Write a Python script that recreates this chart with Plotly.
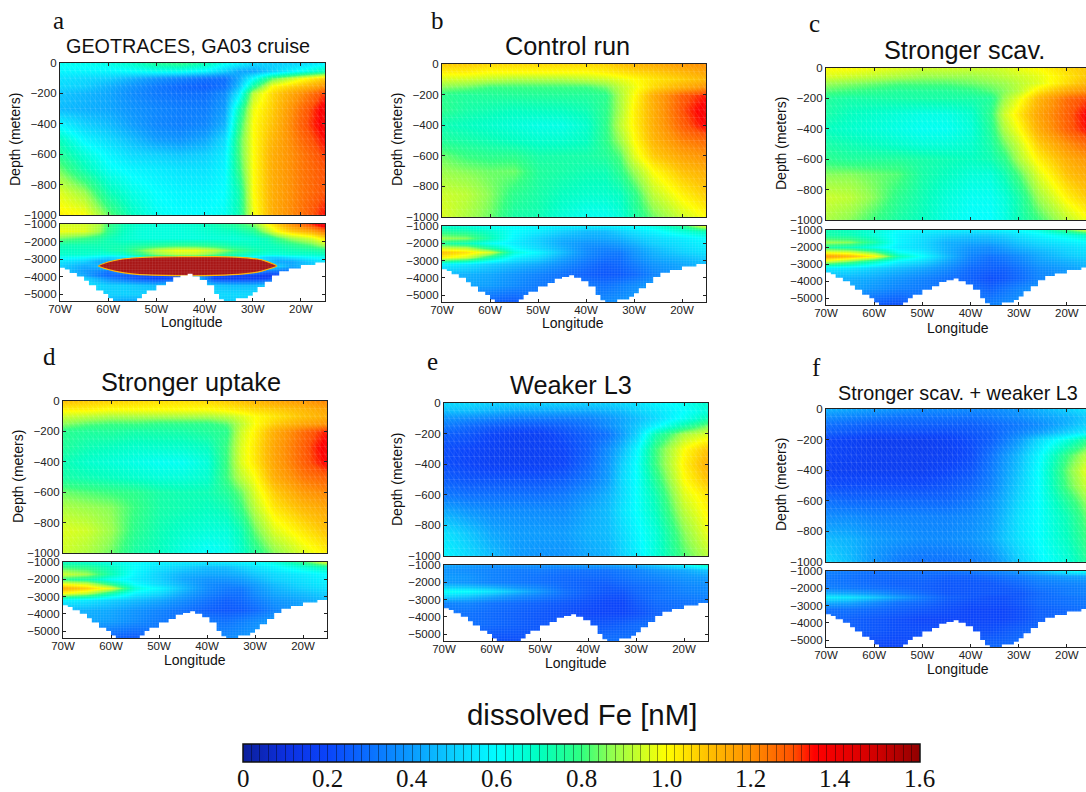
import plotly.graph_objects as go
import numpy as np

W, H = 1086, 792
SANS = "Liberation Sans"
SERIF = "Liberation Serif"

lons = [-70, -65, -60, -55, -50, -45, -40, -36, -33, -30, -26, -20, -15]
upper_depths = [0, -50, -100, -150, -200, -300, -400, -500, -600, -700, -850, -1000]
lower_depths = [-1000, -1300, -1700, -2000, -2300, -2500, -2800, -3200, -3800, -4400, -5400]

a_upper = [
    [.62, .62, .64, .68, .76, .78, .72, .62, .58, .52, .50, .52, .58],
    [.58, .58, .58, .60, .62, .62, .58, .50, .42, .42, .50, .62, .72],
    [.54, .52, .50, .44, .38, .34, .30, .30, .42, .60, .82, .98, 1.08],
    [.52, .50, .44, .38, .32, .28, .26, .30, .46, .75, 1.0, 1.1, 1.2],
    [.48, .45, .42, .36, .32, .30, .30, .36, .55, .92, 1.06, 1.2, 1.32],
    [.46, .44, .42, .38, .35, .33, .33, .40, .70, .98, 1.08, 1.26, 1.38],
    [.58, .50, .46, .40, .35, .33, .35, .44, .76, 1.0, 1.1, 1.28, 1.38],
    [.70, .58, .52, .46, .40, .38, .42, .52, .80, 1.0, 1.12, 1.26, 1.35],
    [.76, .66, .58, .52, .50, .48, .50, .56, .80, 1.0, 1.14, 1.24, 1.32],
    [.84, .72, .62, .58, .56, .54, .54, .58, .78, 1.0, 1.14, 1.24, 1.3],
    [.96, .88, .72, .64, .60, .58, .58, .60, .72, 1.0, 1.14, 1.24, 1.3],
    [1.02, 1.0, .84, .70, .62, .60, .60, .62, .72, .98, 1.14, 1.25, 1.35],
]
a_lons = [-70, -65, -62, -60, -57, -54, -50, -46, -42, -38, -34, -30, -27, -25, -22, -18, -15]
a_depths = [-1000, -1400, -1800, -2200, -2500, -2700, -2900, -3100, -3400, -3700, -3900, -4100, -4500, -5000, -5400]
a_lower = [
    [.95, .95, .90, .80, .72, .68, .66, .66, .68, .72, .76, .85, 1.0, 1.08, 1.2, 1.32, 1.42],
    [.98, .96, .88, .78, .70, .66, .65, .65, .66, .68, .70, .76, .90, 1.0, 1.08, 1.15, 1.25],
    [.85, .80, .76, .72, .68, .66, .65, .65, .65, .66, .66, .68, .72, .80, .88, .95, 1.05],
    [.72, .72, .72, .72, .72, .74, .76, .78, .78, .76, .72, .70, .70, .72, .76, .82, .90],
    [.70, .70, .70, .72, .74, .82, .92, .98, .98, .92, .82, .74, .70, .70, .72, .74, .76],
    [.68, .68, .66, .66, .68, .76, .86, .92, .92, .84, .74, .68, .66, .66, .68, .68, .70],
    [.62, .60, .56, .52, .55, .60, .70, .70, .70, .70, .65, .58, .50, .50, .55, .60, .62],
    [.55, .50, .42, .42, .50, .70, .70, .70, .70, .70, .70, .60, .50, .42, .42, .50, .55],
    [.50, .42, .45, .60, .70, .70, .70, .70, .70, .70, .70, .70, .60, .50, .42, .48, .52],
    [.50, .40, .35, .30, .40, .50, .50, .50, .50, .50, .50, .40, .30, .30, .30, .40, .50],
    [.50, .42, .32, .28, .26, .24, .22, .22, .40, .22, .20, .18, .16, .20, .30, .40, .50],
    [.55, .50, .42, .36, .30, .24, .20, .22, .50, .20, .18, .18, .20, .30, .40, .50, .50],
    [.55, .55, .52, .50, .50, .48, .46, .50, .50, .48, .46, .46, .48, .50, .50, .50, .50],
    [.52, .52, .50, .50, .50, .50, .50, .50, .50, .52, .52, .52, .52, .50, .50, .50, .50],
    [.48, .48, .48, .45, .42, .42, .45, .50, .50, .50, .50, .50, .50, .50, .50, .50, .50],
]
lens_lon = [-62, -60, -57, -54, -50, -45, -40, -35, -32, -29, -27, -25, -27, -29, -33, -40, -46, -54, -57, -60, -62]
lens_depth = [-3400, -3170, -3000, -2930, -2880, -2870, -2860, -2880, -2920, -3000, -3150, -3400, -3600, -3750,
              -3880, -3950, -3950, -3880, -3780, -3600, -3400]

b_upper = [
    [1.08, 1.08, 1.06, 1.06, 1.06, 1.06, 1.06, 1.07, 1.1, 1.12, 1.14, 1.18, 1.2],
    [1.02, 1.02, 1.0, 1.0, 1.0, 1.0, 1.0, 1.02, 1.04, 1.06, 1.08, 1.12, 1.16],
    [.95, .94, .92, .90, .90, .90, .92, .94, .97, 1.0, 1.04, 1.08, 1.12],
    [.86, .84, .80, .80, .80, .80, .80, .84, .92, .98, 1.06, 1.14, 1.2],
    [.78, .76, .76, .76, .76, .76, .76, .78, .90, 1.0, 1.14, 1.28, 1.34],
    [.78, .74, .72, .70, .70, .70, .72, .78, .90, 1.02, 1.14, 1.3, 1.38],
    [.72, .70, .68, .66, .64, .64, .68, .78, .92, 1.02, 1.14, 1.28, 1.36],
    [.76, .74, .72, .70, .68, .68, .70, .78, .88, 1.0, 1.12, 1.22, 1.26],
    [.84, .80, .78, .78, .74, .74, .74, .76, .82, .96, 1.08, 1.16, 1.2],
    [.88, .86, .84, .84, .76, .74, .72, .72, .78, .88, 1.0, 1.1, 1.14],
    [.94, .92, .86, .78, .74, .70, .68, .68, .70, .78, .92, 1.02, 1.08],
    [.96, .90, .84, .74, .72, .66, .62, .62, .66, .74, .84, .94, 1.0],
]
b_lower = [
    [.68, .66, .62, .60, .58, .56, .56, .56, .58, .60, .64, .76, .96],
    [.76, .74, .68, .60, .56, .50, .46, .46, .50, .54, .58, .66, .72],
    [.88, .86, .72, .58, .50, .44, .42, .42, .44, .48, .52, .56, .60],
    [.76, .72, .62, .56, .50, .42, .38, .38, .40, .44, .50, .54, .58],
    [.94, .92, .76, .60, .52, .44, .36, .34, .36, .40, .46, .52, .56],
    [1.1, 1.05, .95, .66, .58, .46, .36, .32, .32, .38, .44, .50, .54],
    [1.02, .95, .75, .58, .52, .42, .34, .30, .30, .36, .42, .46, .50],
    [.58, .55, .50, .46, .42, .36, .30, .26, .28, .32, .38, .42, .46],
    [.45, .44, .42, .38, .34, .30, .26, .24, .25, .28, .34, .40, .44],
    [.42, .42, .40, .36, .32, .30, .32, .30, .33, .36, .40, .42, .44],
    [.30, .28, .26, .24, .30, .32, .34, .36, .38, .40, .42, .44, .44],
]

c_upper = [
    [1.0, 1.0, .98, .96, .94, .94, .94, .94, .95, .98, 1.0, 1.06, 1.1],
    [.96, .94, .92, .90, .88, .88, .88, .90, .92, .94, .97, 1.04, 1.1],
    [.88, .86, .84, .82, .82, .82, .84, .86, .88, .92, .96, 1.06, 1.14],
    [.82, .80, .78, .76, .76, .76, .78, .82, .86, .92, 1.04, 1.16, 1.22],
    [.76, .74, .74, .74, .74, .74, .74, .76, .88, .98, 1.12, 1.26, 1.32],
    [.74, .70, .68, .66, .64, .64, .68, .78, .94, 1.04, 1.16, 1.28, 1.38],
    [.70, .68, .66, .64, .62, .62, .66, .76, .90, 1.0, 1.14, 1.28, 1.36],
    [.74, .72, .70, .68, .66, .66, .68, .74, .84, .94, 1.08, 1.2, 1.28],
    [.78, .76, .76, .76, .74, .72, .70, .72, .78, .90, 1.02, 1.14, 1.2],
    [.86, .86, .84, .82, .74, .70, .66, .66, .72, .82, .96, 1.1, 1.16],
    [.94, .92, .86, .78, .72, .66, .62, .62, .66, .74, .88, 1.02, 1.1],
    [.90, .86, .80, .74, .70, .64, .60, .60, .64, .72, .80, .92, 1.0],
]
c_lower = [
    [.72, .70, .66, .60, .58, .56, .56, .56, .58, .60, .64, .80, .96],
    [.74, .72, .66, .58, .54, .50, .48, .48, .50, .54, .58, .64, .70],
    [.88, .86, .74, .58, .52, .44, .42, .42, .44, .48, .52, .56, .60],
    [.76, .72, .64, .56, .52, .44, .38, .36, .40, .44, .48, .52, .56],
    [.98, .95, .84, .62, .56, .44, .36, .34, .36, .40, .44, .50, .54],
    [1.18, 1.12, 1.02, .72, .60, .46, .34, .30, .32, .36, .42, .48, .52],
    [.95, .85, .72, .58, .52, .42, .32, .28, .30, .34, .40, .44, .48],
    [.56, .54, .50, .46, .42, .36, .28, .26, .26, .30, .36, .40, .44],
    [.44, .44, .42, .38, .34, .30, .26, .22, .24, .28, .34, .38, .42],
    [.42, .42, .38, .34, .32, .30, .30, .26, .30, .34, .38, .40, .42],
    [.30, .28, .24, .22, .28, .30, .32, .34, .36, .38, .40, .42, .42],
]

d_upper = [
    [1.1, 1.08, 1.07, 1.06, 1.05, 1.05, 1.06, 1.08, 1.1, 1.12, 1.15, 1.18, 1.22],
    [1.02, 1.02, 1.0, 1.0, 1.0, 1.0, 1.0, 1.02, 1.04, 1.06, 1.08, 1.12, 1.16],
    [.94, .92, .90, .90, .90, .90, .90, .92, .96, 1.0, 1.04, 1.1, 1.14],
    [.86, .82, .80, .80, .78, .78, .78, .82, .92, 1.0, 1.08, 1.16, 1.2],
    [.78, .76, .76, .74, .74, .74, .76, .78, .94, 1.02, 1.14, 1.26, 1.34],
    [.76, .72, .70, .68, .68, .68, .70, .80, .96, 1.04, 1.16, 1.28, 1.38],
    [.72, .68, .66, .64, .62, .62, .66, .80, .96, 1.04, 1.16, 1.28, 1.36],
    [.74, .72, .70, .68, .66, .66, .68, .80, .92, 1.0, 1.14, 1.24, 1.28],
    [.84, .82, .80, .78, .74, .72, .72, .76, .84, .96, 1.08, 1.18, 1.22],
    [.90, .88, .86, .80, .74, .72, .70, .72, .80, .92, 1.04, 1.12, 1.16],
    [.96, .94, .88, .78, .72, .68, .66, .66, .72, .84, .96, 1.04, 1.1],
    [.94, .90, .84, .74, .70, .64, .60, .62, .68, .76, .86, .96, 1.02],
]
d_lower = [
    [.70, .68, .64, .60, .58, .56, .56, .56, .58, .60, .64, .78, .96],
    [.80, .78, .70, .60, .54, .50, .46, .46, .50, .54, .58, .66, .72],
    [.94, .88, .72, .58, .50, .44, .42, .42, .44, .48, .52, .56, .60],
    [.78, .74, .62, .56, .50, .42, .38, .38, .40, .44, .50, .54, .58],
    [1.0, .95, .78, .60, .52, .44, .36, .34, .36, .40, .46, .52, .56],
    [1.14, 1.08, .96, .66, .58, .46, .36, .32, .32, .38, .44, .50, .54],
    [1.0, .92, .74, .58, .52, .42, .34, .30, .30, .36, .42, .46, .50],
    [.58, .55, .50, .46, .42, .36, .30, .26, .28, .32, .38, .42, .46],
    [.45, .44, .42, .38, .34, .30, .26, .24, .25, .28, .34, .40, .44],
    [.42, .42, .40, .36, .32, .30, .32, .30, .33, .36, .40, .42, .44],
    [.30, .28, .26, .24, .30, .32, .34, .36, .38, .40, .42, .44, .44],
]

e_upper = [
    [.52, .52, .50, .50, .50, .50, .50, .50, .52, .54, .58, .62, .68],
    [.46, .46, .44, .42, .42, .42, .42, .44, .46, .50, .54, .60, .66],
    [.38, .36, .34, .32, .32, .32, .34, .38, .42, .46, .52, .62, .72],
    [.32, .28, .25, .24, .24, .26, .30, .36, .42, .48, .58, .74, .86],
    [.26, .24, .20, .18, .18, .22, .26, .30, .40, .50, .72, .90, .96],
    [.22, .20, .18, .17, .18, .20, .26, .36, .46, .58, .80, 1.0, 1.1],
    [.22, .20, .18, .18, .18, .20, .28, .38, .50, .60, .80, 1.02, 1.14],
    [.26, .24, .24, .24, .24, .26, .32, .40, .52, .60, .76, 1.0, 1.1],
    [.32, .30, .30, .30, .30, .32, .38, .44, .52, .60, .72, .96, 1.04],
    [.42, .38, .36, .36, .36, .36, .42, .46, .54, .60, .70, .92, 1.02],
    [.54, .48, .42, .40, .40, .40, .44, .46, .52, .58, .66, .86, .98],
    [.58, .52, .46, .40, .38, .38, .42, .44, .50, .56, .66, .82, .92],
]
e_lower = [
    [.42, .40, .38, .38, .38, .38, .40, .40, .42, .44, .48, .58, .70],
    [.38, .36, .34, .32, .32, .30, .30, .30, .32, .34, .38, .42, .48],
    [.40, .38, .34, .32, .30, .28, .28, .28, .30, .32, .34, .38, .40],
    [.40, .38, .34, .32, .30, .28, .26, .26, .28, .30, .32, .36, .38],
    [.50, .48, .44, .38, .34, .28, .26, .24, .26, .28, .30, .34, .36],
    [.62, .60, .54, .46, .38, .30, .26, .24, .24, .28, .30, .34, .36],
    [.52, .48, .42, .36, .32, .28, .24, .22, .22, .26, .30, .32, .34],
    [.34, .34, .30, .28, .26, .24, .22, .20, .20, .24, .28, .30, .32],
    [.30, .30, .28, .26, .24, .22, .20, .20, .20, .22, .26, .30, .32],
    [.30, .30, .28, .26, .24, .24, .24, .24, .26, .28, .30, .32, .32],
    [.24, .24, .22, .22, .24, .26, .28, .30, .30, .30, .32, .32, .32],
]

f_upper = [
    [.44, .42, .40, .38, .36, .36, .36, .36, .38, .40, .44, .50, .55],
    [.36, .34, .32, .30, .30, .30, .30, .32, .34, .36, .40, .44, .50],
    [.30, .28, .26, .26, .26, .26, .26, .28, .30, .32, .36, .44, .52],
    [.26, .24, .22, .22, .22, .22, .24, .26, .30, .34, .40, .50, .58],
    [.20, .18, .16, .16, .16, .18, .22, .26, .32, .40, .52, .66, .80],
    [.20, .18, .17, .17, .17, .18, .22, .30, .38, .46, .58, .80, .94],
    [.18, .17, .17, .17, .17, .20, .24, .32, .40, .48, .60, .84, 1.0],
    [.22, .22, .22, .22, .22, .24, .28, .34, .42, .50, .60, .82, .96],
    [.30, .28, .28, .28, .28, .28, .32, .38, .44, .52, .60, .76, .90],
    [.36, .36, .34, .34, .34, .34, .36, .40, .46, .54, .60, .72, .86],
    [.46, .44, .40, .38, .36, .36, .38, .42, .48, .54, .60, .70, .82],
    [.52, .46, .38, .32, .30, .30, .32, .36, .42, .50, .58, .66, .78],
]
f_lower = [
    [.34, .32, .30, .30, .30, .30, .32, .34, .36, .40, .46, .58, .62],
    [.32, .30, .28, .28, .28, .26, .26, .28, .30, .32, .36, .40, .42],
    [.32, .30, .28, .26, .26, .24, .24, .24, .26, .28, .32, .34, .36],
    [.34, .32, .30, .28, .26, .24, .24, .24, .24, .26, .30, .32, .34],
    [.44, .42, .38, .32, .28, .24, .24, .24, .24, .24, .28, .32, .34],
    [.56, .54, .48, .40, .32, .26, .24, .22, .22, .24, .28, .30, .32],
    [.44, .42, .36, .30, .28, .24, .22, .22, .22, .24, .28, .30, .32],
    [.30, .30, .28, .26, .24, .22, .20, .20, .20, .22, .26, .28, .30],
    [.28, .26, .24, .22, .20, .20, .20, .20, .20, .22, .26, .28, .30],
    [.26, .26, .24, .22, .22, .22, .22, .22, .24, .26, .28, .30, .30],
    [.22, .20, .20, .20, .22, .24, .26, .28, .28, .30, .30, .30, .30],
]

bathy_lon = [-70, -69, -68, -66.5, -65, -64, -62.5, -61, -60, -59, -54, -53, -52, -50, -48, -46.5, -45, -43.5,
             -42.5, -41, -39.5, -38, -37, -36, -33.5, -31, -30, -29, -27.5, -26, -24.5, -22.5, -20, -17, -15]
bathy_depth = [-3500, -3600, -3800, -4000, -4250, -4500, -4800, -5000, -5250, -5400, -5250, -5000, -4800, -4500,
               -4300, -4050, -3950, -3850, -4000, -4200, -4500, -5000, -5300, -5400, -5250, -5100, -4900, -4600,
               -4300, -3950, -3700, -3550, -3350, -3200, -3000]

panel_titles = ["GEOTRACES, GA03 cruise", "Control run", "Stronger scav.", "Stronger uptake", "Weaker L3",
                "Stronger scav. + weaker L3"]
panel_letters = ["a", "b", "c", "d", "e", "f"]
lon_ticks = [-70, -60, -50, -40, -30, -20]
lon_labels = ["70W", "60W", "50W", "40W", "30W", "20W"]
upper_ticks = [0, -200, -400, -600, -800, -1000]
lower_ticks = [-1000, -2000, -3000, -4000, -5000]
cbar_ticks = [0, 0.2, 0.4, 0.6, 0.8, 1.0, 1.2, 1.4, 1.6]
cbar_labels = ["0", "0.2", "0.4", "0.6", "0.8", "1.0", "1.2", "1.4", "1.6"]

# layout, in picture pixels: left, right, upper top/bottom, lower top/bottom
boxes = [
    (60, 325, 63, 215, 224, 301),
    (442, 706, 64, 217, 226, 302),
    (826, 1086, 68, 220, 230, 305),
    (63, 327, 401, 553, 562, 638),
    (444, 708, 403, 556, 565, 641),
    (826, 1086, 409, 562, 571, 647),
]
BIG, SMALL = 25.3, 19.8
title_pos = [(188, 46, SMALL), (567, 46, BIG), (964, 50, BIG), (191, 382, BIG), (571, 385, BIG), (958, 393, SMALL)]
letter_pos = [(58, 20), (437, 20), (814, 23), (49, 357), (432, 361), (816, 367)]
lonlabel_pos = [(192, 322), (573, 323), (958, 328), (195, 660), (576, 663), (958, 669)]
ylabel_pos = [(15, 140), (397, 140), (781, 144), (18, 477), (397, 480), (781, 485)]
CBAR_LEFT, CBAR_RIGHT, CBAR_TOP, CBAR_LABEL_Y = 243, 920, 744, 778

colorscale_stops = [
    (0, "#0c1f9a"), (.1, "#0c30e0"), (.2, "#0a44fa"), (.3, "#0a70ff"), (.4, "#0a9cff"), (.5, "#0ad0ff"),
    (.6, "#00ffff"), (.7, "#00ffc0"), (.8, "#30ff80"), (.87, "#90ff50"), (1.0, "#ffff00"), (1.1, "#ffc000"),
    (1.2, "#ff9000"), (1.3, "#ff5000"), (1.35, "#ff0000"), (1.5, "#d00000"), (1.6, "#900000"),
]
colorscale = [[v / 1.6, c] for v, c in colorscale_stops]

uppers = [a_upper, b_upper, c_upper, d_upper, e_upper, f_upper]
lowers = [a_lower, b_lower, c_lower, d_lower, e_lower, f_lower]

fig = go.Figure()
annotations = []


def note(px, py, text, size, family=SANS, angle=0):
    annotations.append(dict(x=px / W, y=1 - py / H, xref="paper", yref="paper", text=text, showarrow=False,
                            xanchor="center", yanchor="middle", textangle=angle,
                            font=dict(size=size, family=family, color="#111")))


def mesh(xstep, ystep, y0, y1, diagonal):
    xs, ys = [], []
    xvals = np.arange(-70, -15, xstep)
    yvals = np.arange(y1, y0, ystep)
    for v in xvals:
        xs += [float(v), float(v), None]
        ys += [y0, y1, None]
    for v in yvals:
        xs += [-70, -15, None]
        ys += [float(v), float(v), None]
    if diagonal:
        for a in xvals:
            for b in yvals:
                xs += [float(a), float(a + xstep), None]
                ys += [float(b + ystep), float(b), None]
    return xs, ys


layout_axes = {}
for i, box in enumerate(boxes):
    left, right, ut, ub, lt, lb = box
    clipped = right == W
    xr = [-70, -70 + 55 * (right - left) / (265 if clipped else right - left)]
    for j, (top, bot) in enumerate([(ut, ub), (lt, lb)]):
        n = 2 * i + j + 1
        xn, yn = f"x{n}", f"y{n}"
        if j == 0:
            fig.add_trace(go.Heatmap(x=lons, y=upper_depths, z=uppers[i], coloraxis="coloraxis", zsmooth="best",
                                     xaxis=xn, yaxis=yn, hoverinfo="skip"))
            yrange, yticks = [-1000, 0], upper_ticks
            mx, my = mesh(1.05, 50, 0, -1000, True)
            mesh_line = dict(color="rgba(255,255,255,0.16)", width=0.6)
        else:
            if i == 0:
                fig.add_trace(go.Heatmap(x=a_lons, y=a_depths, z=a_lower, coloraxis="coloraxis", zsmooth="best",
                                         xaxis=xn, yaxis=yn, hoverinfo="skip"))
                fig.add_trace(go.Scatter(x=lens_lon, y=lens_depth, mode="lines", fill="toself", fillcolor="#a81515",
                                         line=dict(color="#ffb000", width=1.2, shape="spline", smoothing=0.6),
                                         xaxis=xn, yaxis=yn, showlegend=False, hoverinfo="skip"))
            else:
                fig.add_trace(go.Heatmap(x=lons, y=lower_depths, z=lowers[i], coloraxis="coloraxis", zsmooth="best",
                                         xaxis=xn, yaxis=yn, hoverinfo="skip"))
            yrange, yticks = [-5400, -1000], lower_ticks
            mx, my = mesh(0.6, 150, -1000, -5400, False)
            mesh_line = dict(color="rgba(255,255,255,0.13)", width=0.6)
        fig.add_trace(go.Scatter(x=mx, y=my, mode="lines", xaxis=xn, yaxis=yn, showlegend=False, hoverinfo="skip",
                                 line=mesh_line))
        if j == 1:
            fig.add_trace(go.Scatter(x=[-70] + bathy_lon + [-15, -70], y=[-5400] + bathy_depth + [-5400, -5400],
                                     mode="lines", fill="toself", fillcolor="white", xaxis=xn, yaxis=yn,
                                     line=dict(width=0, shape="hv", color="white"), showlegend=False,
                                     hoverinfo="skip"))
        layout_axes["xaxis" + ("" if n == 1 else str(n))] = dict(
            domain=[left / W, right / W], range=xr, anchor=yn, tickvals=lon_ticks, ticktext=lon_labels,
            showticklabels=j == 1, ticks="inside", ticklen=3, tickcolor="#222", showgrid=False, zeroline=False,
            showline=True, linecolor="#222", linewidth=1.3, mirror="ticks", ticklabelstandoff=-3,
            tickfont=dict(size=11.5, family=SANS, color="#222"))
        layout_axes["yaxis" + ("" if n == 1 else str(n))] = dict(
            domain=[1 - bot / H, 1 - top / H], range=yrange, anchor=xn, tickvals=yticks,
            ticks="inside", ticklen=3, tickcolor="#222", showgrid=False, zeroline=False,
            showline=True, linecolor="#222", linewidth=1.3, mirror=False if clipped else "ticks",
            tickfont=dict(size=11.5, family=SANS, color="#222"))
    note(*title_pos[i][:2], panel_titles[i], title_pos[i][2])
    note(*letter_pos[i], panel_letters[i], 25, SERIF)
    note(*lonlabel_pos[i], "Longitude", 14)
    note(*ylabel_pos[i], "Depth (meters)", 14, angle=-90)

note(582, 714, "dissolved Fe [nM]", 29.4)
for value, label in zip(cbar_ticks, cbar_labels):
    note(CBAR_LEFT + value / 1.6 * (CBAR_RIGHT - CBAR_LEFT), CBAR_LABEL_Y, label, 25, SERIF)

cell_edges = [round(k * 0.02, 2) for k in range(81)]
fig.update_layout(
    width=W, height=H, margin=dict(l=0, r=0, t=0, b=0, autoexpand=False),
    paper_bgcolor="white", plot_bgcolor="white", showlegend=False, annotations=annotations,
    coloraxis=dict(
        cmin=0, cmax=1.6, colorscale=colorscale,
        colorbar=dict(
            orientation="h", x=(CBAR_LEFT + CBAR_RIGHT) / 2 / W, xanchor="center", y=1 - CBAR_TOP / H, yanchor="top",
            len=CBAR_RIGHT - CBAR_LEFT, lenmode="pixels",
            thickness=18, thicknessmode="pixels", xpad=0, ypad=0, outlinecolor="#111", outlinewidth=1.5,
            tickmode="array", tickvals=cell_edges, ticktext=["" for v in cell_edges],
            ticks="inside", ticklen=18, tickwidth=0.7, tickcolor="rgba(0,0,0,0.4)",
        ),
    ),
    **layout_axes,
)
fig.write_html("out.html", post_script="document.body.style.margin='0';", config={"displayModeBar": False})
